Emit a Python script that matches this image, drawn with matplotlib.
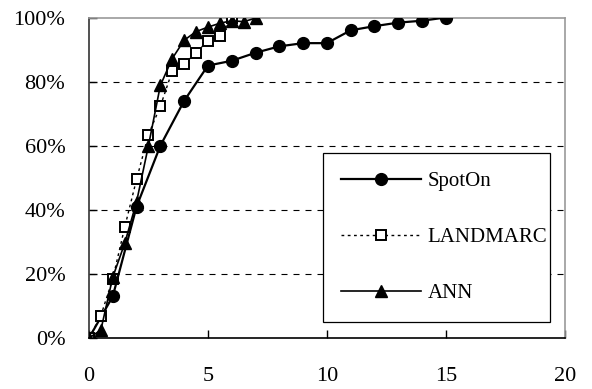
#Import libraries
import numpy as np
import matplotlib.pyplot as plt
from matplotlib import font_manager
from matplotlib.ticker import PercentFormatter

#Chart data
spoton_x = [0, 1, 2, 3, 4, 5, 6, 7, 8, 9, 10, 11, 12, 13, 14, 15]
spoton_y = [0, 13, 41, 60, 74, 85, 86.5, 89, 91, 92, 92, 96, 97.3, 98.4, 99, 100]

landmarc_x = [0, 0.5, 1, 1.5, 2, 2.5, 3, 3.5, 4, 4.5, 5, 5.5, 6]
landmarc_y = [0, 7, 18.5, 34.5, 49.5, 63.5, 72.3, 83.3, 85.5, 89, 92.8, 94.3, 100]

ann_x = [0, 0.5, 1, 1.5, 2, 2.5, 3, 3.5, 4, 4.5, 5, 5.5, 6, 6.5, 7]
ann_y = [0, 2.5, 19, 29.5, 42.5, 60, 78.8, 87.2, 92.9, 95.6, 97, 98.2, 99, 98.7, 99.8]

x_ticks = [0, 5, 10, 15, 20]
y_ticks = [0, 20, 40, 60, 80, 100]

#Pick a Times-like serif that is actually installed
names = {f.name for f in font_manager.fontManager.ttflist}
serif = [n for n in ["Liberation Serif", "Times New Roman", "Nimbus Roman", "DejaVu Serif"] if n in names]
plt.rcParams['font.family'] = serif

fig = plt.figure(figsize=(5.92, 3.89), dpi=100)
ax = fig.add_axes([0.1503, 0.131, 0.8037, 0.824])

#Dashed gridlines under the data
for y in y_ticks[1:-1]:
    ax.axhline(y, color="black", linestyle=(0, (5.4, 5.4)), linewidth=0.8, zorder=1)

ax.plot(spoton_x, spoton_y, color="black", linewidth=1.6, marker="o",
        markersize=8.5, label="SpotOn", zorder=3)
ax.plot(landmarc_x, landmarc_y, color="black", linewidth=1.0, linestyle=(0, (2, 2.5)),
        marker="s", markersize=7.5, markerfacecolor="white", markeredgewidth=1.4,
        label="LANDMARC", zorder=4)
ax.plot(ann_x, ann_y, color="black", linewidth=1.2, marker="^",
        markersize=9, label="ANN", zorder=5)

ax.set_xlim(0, 20)
ax.set_ylim(0, 100)
ax.set_xticks(x_ticks)
ax.set_yticks(y_ticks)
ax.yaxis.set_major_formatter(PercentFormatter(decimals=0))
ax.tick_params(direction="in", length=6, width=1, labelsize=16)
ax.tick_params(axis="y", pad=17)
ax.tick_params(axis="x", pad=21)

ax.spines["left"].set_color("#333333")
ax.spines["bottom"].set_color("black")
ax.spines["top"].set_color("#999999")
ax.spines["right"].set_color("#999999")
for s in ax.spines.values():
    s.set_linewidth(1.2)

leg = ax.legend(loc="lower left", bbox_to_anchor=(0.491, 0.05, 0.477, 0.539),
                mode="expand", fontsize=15, handlelength=3.8, handletextpad=0.35,
                labelspacing=1.75, borderpad=0.9, borderaxespad=0,
                fancybox=False, framealpha=1, edgecolor="black")
leg.get_frame().set_linewidth(0.9)
leg.set_zorder(6)

plt.savefig("out.png", dpi=100)
